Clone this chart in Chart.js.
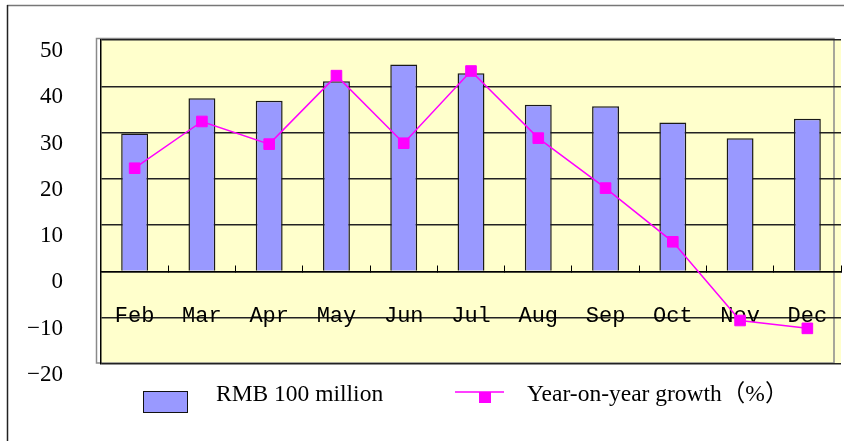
<!DOCTYPE html>
<html>
<head>
<meta charset="utf-8">
<script src="https://cdn.jsdelivr.net/npm/chart.js@4/dist/chart.umd.min.js"></script>
<style>
  html, body { margin: 0; padding: 0; background: #ffffff; overflow: hidden; }
  #wrap { width: 844px; height: 441px; }
  canvas { display: block; }
</style>
</head>
<body>
<div id="wrap"><canvas id="c" width="844" height="441"></canvas></div>
<script>
// ---- data ----
const categories = ['Feb', 'Mar', 'Apr', 'May', 'Jun', 'Jul', 'Aug', 'Sep', 'Oct', 'Nov', 'Dec'];
const amountValues = [29.8, 37.4, 36.9, 41.1, 44.7, 42.8, 36.0, 35.7, 32.2, 28.8, 33.0];
const growthValues = [22.3, 32.4, 27.5, 42.3, 27.7, 43.3, 28.8, 18.0, 6.4, -10.6, -12.3];
const seriesNames = ['RMB 100 million', 'Year-on-year growth（%）'];
const yTickValues = [-20, -10, 0, 10, 20, 30, 40, 50];

const BAR_COLOR = '#9999FF';
const LINE_COLOR = '#FF00FF';
const PLOT_RIGHT = 841;

const framePlugin = {
  id: 'frame',
  afterLayout(chart) {
    const ca = chart.chartArea;
    if (ca.right !== PLOT_RIGHT) {
      ca.right = PLOT_RIGHT;
      ca.width = PLOT_RIGHT - ca.left;
      const x = chart.scales.x;
      x.right = PLOT_RIGHT;
      x.width = PLOT_RIGHT - x.left;
      x.configure();
      const y = chart.scales.y;
      y.configure();
    }
  },
  beforeDraw(chart) {
    const ctx = chart.ctx;
    const a = chart.chartArea;
    ctx.save();
    ctx.fillStyle = '#ffffff';
    ctx.fillRect(0, 0, chart.width, chart.height);
    // outer chart border
    ctx.strokeStyle = '#777777';
    ctx.lineWidth = 1.5;
    ctx.beginPath();
    ctx.moveTo(7, 5.5); ctx.lineTo(chart.width, 5.5);
    ctx.stroke();
    ctx.strokeStyle = '#222222';
    ctx.beginPath();
    ctx.moveTo(7.5, 5); ctx.lineTo(7.5, chart.height);
    ctx.stroke();
    // plot background
    ctx.fillStyle = '#FFFFCC';
    ctx.fillRect(a.left, a.top, a.right - a.left, a.bottom - a.top);
    // grey frame
    ctx.strokeStyle = '#8a8a8a';
    ctx.lineWidth = 1.5;
    ctx.strokeRect(96.5, 38.5, 834 - 96.5, 363 - 38.5);
    ctx.restore();
  },
  afterDraw(chart) {
    const ctx = chart.ctx;
    ctx.save();
    // legend: bar
    ctx.fillStyle = BAR_COLOR;
    ctx.fillRect(143, 391, 44, 21);
    ctx.strokeStyle = '#111111';
    ctx.lineWidth = 1;
    ctx.strokeRect(143.5, 391.5, 44, 21);
    ctx.fillStyle = '#000000';
    ctx.font = '23.5px "Liberation Serif", "Times New Roman", serif';
    ctx.textBaseline = 'alphabetic';
    ctx.textAlign = 'left';
    ctx.fillText(seriesNames[0], 216, 401);
    // legend: line
    ctx.strokeStyle = LINE_COLOR;
    ctx.lineWidth = 1.5;
    ctx.beginPath();
    ctx.moveTo(455, 392); ctx.lineTo(504, 392);
    ctx.stroke();
    ctx.fillStyle = LINE_COLOR;
    ctx.fillRect(479, 392, 12, 11);
    ctx.fillStyle = '#000000';
    ctx.font = '23.5px "Liberation Serif", "Noto Sans CJK SC", serif';
    ctx.fillText(seriesNames[1], 527, 401);
    ctx.restore();
  }
};

new Chart(document.getElementById('c'), {
  type: 'bar',
  data: {
    labels: categories,
    datasets: [
      {
        type: 'line',
        label: seriesNames[1],
        data: growthValues,
        borderColor: LINE_COLOR,
        backgroundColor: LINE_COLOR,
        borderWidth: 1.5,
        pointStyle: 'rect',
        pointRadius: 7.5,
        pointBorderWidth: 1,
        pointBackgroundColor: LINE_COLOR,
        pointBorderColor: LINE_COLOR,
        tension: 0,
        fill: false,
        order: 0
      },
      {
        type: 'bar',
        label: seriesNames[0],
        data: amountValues,
        backgroundColor: BAR_COLOR,
        borderColor: '#1a1a1a',
        borderWidth: 1.5,
        barPercentage: 0.4,
        categoryPercentage: 1.0,
        order: 1
      }
    ]
  },
  options: {
    responsive: false,
    animation: false,
    devicePixelRatio: 1,
    layout: { padding: { top: 40, bottom: 77, left: 0, right: 3 } },
    plugins: {
      legend: { display: false },
      tooltip: { enabled: false },
      title: { display: false }
    },
    scales: {
      y: {
        min: yTickValues[0],
        max: yTickValues[yTickValues.length - 1],
        afterBuildTicks(scale) {
          scale.ticks = yTickValues.map(v => ({ value: v }));
        },
        afterFit(scale) {
          scale.width = 101;
          scale.paddingTop = 0;
          scale.paddingBottom = 0;
        },
        grid: {
          color: '#222222',
          lineWidth: 1.4,
          drawTicks: false
        },
        border: { display: true, color: '#000000', width: 1.5 },
        ticks: {
          padding: 38,
          labelOffset: 11,
          color: '#000000',
          font: { family: '"Liberation Serif", "Times New Roman", serif', size: 23 },
          callback: (v) => (v < 0 ? '\u2212' + Math.abs(v) : String(v))
        }
      },
      x: {
        position: { y: 0 },
        offset: true,
        afterFit(scale) {
          scale.paddingLeft = 0;
          scale.paddingRight = 0;
        },
        grid: {
          offset: true,
          drawOnChartArea: false,
          drawTicks: true,
          tickLength: -7,
          color: '#000000',
          lineWidth: 1
        },
        border: { display: true, color: '#000000', width: 1.5 },
        ticks: {
          padding: 39,
          color: '#000000',
          maxRotation: 0,
          autoSkip: false,
          font: { family: '"Liberation Mono", "DejaVu Sans Mono", monospace', size: 22 }
        }
      }
    }
  },
  plugins: [framePlugin]
});
</script>
</body>
</html>
